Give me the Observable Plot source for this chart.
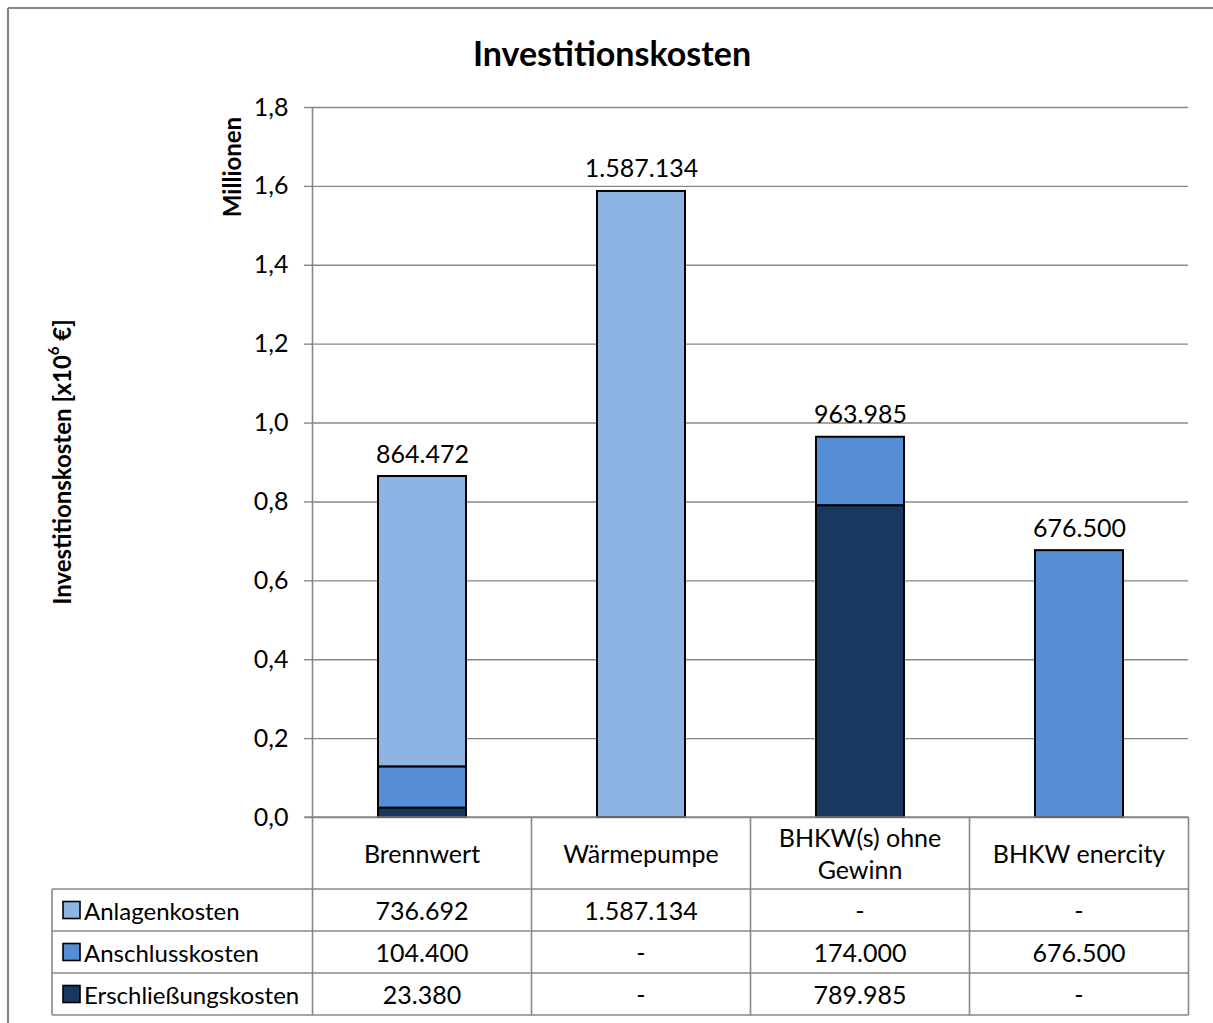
<!DOCTYPE html>
<html><head><meta charset="utf-8">
<script src="https://cdn.jsdelivr.net/npm/d3@7"></script>
<script src="https://cdn.jsdelivr.net/npm/@observablehq/plot@0.6"></script>
<style>body{margin:0;background:#fff;font-family:Lato,"Open Sans",sans-serif}</style>
</head><body><div id="chart"></div>
<script>
const chartTitle = "Investitionskosten";
const unitLabel = "Millionen";
const axisTitle = "Investitionskosten [x10";
const axisTitleSup = "6";
const axisTitleEnd = " €]";
const categories = ["Brennwert", "Wärmepumpe", "BHKW(s) ohne Gewinn", "BHKW enercity"];
const categoryLines = [["Brennwert"], ["Wärmepumpe"], ["BHKW(s) ohne", "Gewinn"], ["BHKW enercity"]];
const seriesNames = ["Anlagenkosten", "Anschlusskosten", "Erschließungskosten"];
const seriesColors = ["#8EB4E3", "#558ED5", "#1A385F"];
const anlagenkosten = [736692, 1587134, null, null];
const anschlusskosten = [104400, null, 174000, 676500];
const erschliessungskosten = [23380, null, 789985, null];
const yTicks = [0, 200000, 400000, 600000, 800000, 1000000, 1200000, 1400000, 1600000, 1800000];

const seriesValues = [anlagenkosten, anschlusskosten, erschliessungskosten];
const de = d3.formatLocale({decimal: ",", thousands: ".", grouping: [3], currency: ["", " €"]});
const fmtInt = de.format(",d");
const fmtTick = v => de.format(".1f")(v / 1e6);

const rows = [];
seriesNames.forEach((s, si) => categories.forEach((c, ci) => {
  const v = seriesValues[si][ci];
  if (v != null) rows.push({category: c, series: s, value: v});
}));
const totals = categories.map((c, ci) => ({category: c, total: d3.sum(seriesValues, a => a[ci] || 0)}));

const FONT = "Lato, 'Open Sans', sans-serif";
const W = 1213, H = 1023;
const GRID = "#878787";

const plot = Plot.plot({
  width: W, height: H,
  marginLeft: 312, marginRight: 25, marginTop: 107, marginBottom: 206,
  style: {fontFamily: FONT, fontSize: "25px", color: "#000", background: "#fff", overflow: "visible"},
  x: {domain: categories, paddingInner: 0.6, paddingOuter: 0.3, axis: null},
  y: {domain: [0, 1800000], axis: null},
  color: {domain: seriesNames, range: seriesColors},
  marks: [
    Plot.gridY(yTicks, {stroke: GRID, strokeOpacity: 1, strokeWidth: 1.4}),
    Plot.axisY(yTicks, {tickSize: 8, tickPadding: 16, stroke: GRID, strokeWidth: 1.4, fill: "#000", tickFormat: fmtTick, fontSize: 25, label: null}),
    Plot.barY(rows, {x: "category", y: "value", fill: "series", stroke: "#000", strokeWidth: 2,
      order: ["Erschließungskosten", "Anschlusskosten", "Anlagenkosten"]}),
    Plot.text(totals, {x: "category", y: "total", text: d => fmtInt(d.total), lineAnchor: "bottom", dy: -14, fontSize: 25, fill: "#000"})
  ]
});

const svg = d3.select(plot);
const xs = plot.scale("x"), ys = plot.scale("y");
const step = xs.step, bw = xs.bandwidth;
const center = c => xs.apply(c) + bw / 2;
const left0 = center(categories[0]) - step / 2;
const right0 = center(categories[categories.length - 1]) + step / 2;
const y0 = ys.apply(0), yTop = ys.apply(1800000);
const rowH = 42, headH = 72;
const rowTops = seriesNames.map((s, i) => y0 + headH + i * rowH);
const tableBottom = y0 + headH + seriesNames.length * rowH;
const legendLeft = 52;

const g = svg.append("g").attr("font-family", FONT).attr("font-size", 25).attr("fill", "#000");
const line = (x1, y1, x2, y2, w = 1.6, col = GRID) => g.append("line").attr("x1", x1).attr("y1", y1).attr("x2", x2).attr("y2", y2).attr("stroke", col).attr("stroke-width", w);

// outer chart frame
line(8, 8, W, 8, 2.2);
line(8, 8, 8, H, 2.2);
// axis line + table grid
line(left0, yTop, left0, tableBottom);
line(left0 - 8, y0, right0, y0);
categories.forEach(c => line(center(c) + step / 2, y0, center(c) + step / 2, tableBottom));
rowTops.forEach(t => line(legendLeft, t, right0, t));
line(legendLeft, tableBottom, right0, tableBottom);
line(legendLeft, rowTops[0], legendLeft, tableBottom);

// header labels
categories.forEach((c, ci) => {
  const ls = categoryLines[ci];
  const mid = y0 + headH / 2;
  ls.forEach((t, li) => {
    g.append("text").attr("x", center(c)).attr("y", mid + (li - (ls.length - 1) / 2) * 32)
      .attr("text-anchor", "middle").attr("dominant-baseline", "central").text(t);
  });
});
// table rows
seriesNames.forEach((s, si) => {
  const mid = rowTops[si] + rowH / 2;
  g.append("rect").attr("x", 63).attr("y", mid - 8.5).attr("width", 17).attr("height", 17)
    .attr("fill", seriesColors[si]).attr("stroke", "#000").attr("stroke-width", 1.6);
  g.append("text").attr("x", 84).attr("y", mid).attr("text-anchor", "start").attr("font-size", 24)
    .attr("dominant-baseline", "central").text(s);
  categories.forEach((c, ci) => {
    const v = seriesValues[si][ci];
    g.append("text").attr("x", center(c)).attr("y", mid).attr("text-anchor", "middle")
      .attr("dominant-baseline", "central").text(v == null ? "-" : fmtInt(v));
  });
});
// titles
g.append("text").attr("x", 612).attr("y", 52).attr("text-anchor", "middle").attr("dominant-baseline", "central")
  .attr("font-size", 34).attr("font-weight", "bold").text(chartTitle);
g.append("text").attr("transform", "translate(231,167) rotate(-90)").attr("text-anchor", "middle")
  .attr("dominant-baseline", "central").attr("font-weight", "bold").attr("font-size", 24).text(unitLabel);
const at = g.append("text").attr("transform", "translate(61,462) rotate(-90)").attr("text-anchor", "middle")
  .attr("dominant-baseline", "central").attr("font-weight", "bold").attr("font-size", 24);
at.append("tspan").text(axisTitle);
at.append("tspan").attr("font-size", 15).attr("dy", -8).text(axisTitleSup);
at.append("tspan").attr("dy", 8).text(axisTitleEnd);

document.getElementById("chart").append(plot);
</script>
</body></html>
